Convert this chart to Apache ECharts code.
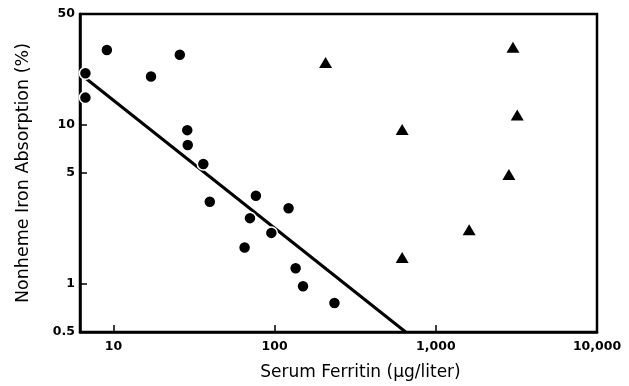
<!DOCTYPE html>
<html>
<head>
<meta charset="utf-8">
<script src="https://cdn.jsdelivr.net/npm/echarts@6/dist/echarts.min.js"></script>
<style>
  html, body { margin: 0; padding: 0; background: #fff; }
  #chart { width: 629px; height: 386px; }
</style>
</head>
<body>
<div id="chart"></div>
<script>
// circles: absorption falls as ferritin rises
const circleFerritin = [6.7, 6.7, 9.1, 17.1, 25.8, 28.7, 28.9, 36.1, 39.6, 76.5, 122, 70.3, 95.4, 65.1, 135, 150, 235];
const circleAbsorption = [21.2, 14.9, 29.7, 20.2, 27.7, 9.3, 7.5, 5.7, 3.3, 3.6, 3.0, 2.6, 2.1, 1.7, 1.26, 0.97, 0.76];
// triangles
const triangleFerritin = [207, 3010, 3200, 618, 2840, 1610, 618];
const triangleAbsorption = [24.8, 30.9, 11.6, 9.4, 4.9, 2.2, 1.47];
// regression line
const fitFerritin = [6.6, 650];
const fitAbsorption = [20, 0.5];
// tick labels
const xTicks = [10, 100, 1000, 10000];
const yTicks = [0.5, 1, 5, 10, 50];

const pairs = (xs, ys) => xs.map((x, i) => [x, ys[i]]);

const font = '"DejaVu Sans", sans-serif';
const chart = echarts.init(document.getElementById('chart'));

chart.setOption({
    animation: false,
    grid: {
        left: 80, right: 32, top: 14, bottom: 53,
        show: true,
        borderColor: '#000',
        borderWidth: 2.5
    },
    xAxis: {
        type: 'log',
        logBase: 10,
        min: 6.2,
        max: 10000,
        name: 'Serum Ferritin (\u00b5g/liter)',
        nameLocation: 'middle',
        nameGap: 32,
        nameTextStyle: { color: '#000', fontSize: 17, fontFamily: font, padding: [0, 0, 0, 44] },
        axisLine: { lineStyle: { color: '#000', width: 2.5 } },
        axisTick: { inside: true, length: 7, lineStyle: { color: '#000', width: 1.5 }, customValues: xTicks },
        axisLabel: {
            color: '#000', fontSize: 12.5, fontWeight: 'bold', fontFamily: font, margin: 8,
            customValues: xTicks,
            formatter: v => Number(v).toLocaleString('en-US')
        },
        splitLine: { show: false }
    },
    yAxis: {
        type: 'log',
        logBase: 10,
        min: 0.5,
        max: 50,
        name: 'Nonheme Iron Absorption (%)',
        nameLocation: 'middle',
        nameGap: 48,
        nameTextStyle: { color: '#000', fontSize: 17.5, fontFamily: font },
        axisLine: { lineStyle: { color: '#000', width: 2.5 } },
        axisTick: { inside: true, length: 7, lineStyle: { color: '#000', width: 1.5 }, customValues: yTicks },
        axisLabel: {
            color: '#000', fontSize: 12.5, fontWeight: 'bold', fontFamily: font, margin: 5,
            customValues: yTicks,
            formatter: v => String(v)
        },
        splitLine: { show: false }
    },
    series: [
        {
            type: 'line',
            data: pairs(fitFerritin, fitAbsorption),
            symbol: 'none',
            lineStyle: { color: '#000', width: 3 },
            z: 1
        },
        {
            type: 'scatter',
            data: pairs(circleFerritin, circleAbsorption),
            symbol: 'circle',
            symbolSize: 12,
            itemStyle: { color: '#000', borderColor: '#fff', borderWidth: 1.5, opacity: 1 },
            z: 3
        },
        {
            type: 'scatter',
            data: pairs(triangleFerritin, triangleAbsorption),
            symbol: 'triangle',
            symbolSize: [13, 11],
            itemStyle: { color: '#000', opacity: 1 },
            z: 3
        }
    ]
});
</script>
</body>
</html>
